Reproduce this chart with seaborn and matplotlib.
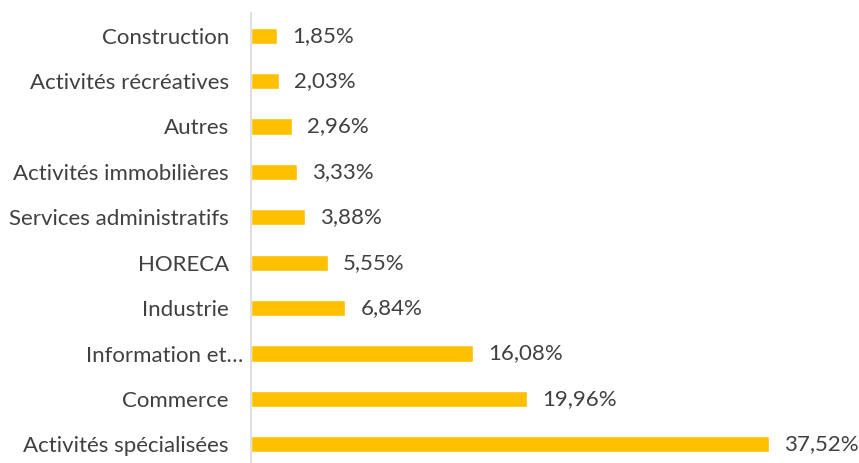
"""Horizontal bar chart: share of sectors (French labels, comma decimals)."""

import matplotlib

matplotlib.use("Agg")
import matplotlib.pyplot as plt
import matplotlib.transforms as mtransforms
import pandas as pd
import seaborn as sns

sectors = [
    "Construction",
    "Activités récréatives",
    "Autres",
    "Activités immobilières",
    "Services administratifs",
    "HORECA",
    "Industrie",
    "Information et…",
    "Commerce",
    "Activités spécialisées",
]
shares = [1.85, 2.03, 2.96, 3.33, 3.88, 5.55, 6.84, 16.08, 19.96, 37.52]

BAR_COLOR = "#FFC000"
TEXT_COLOR = "#404040"

sns.set_style("white")
plt.rcParams["font.family"] = ["Lato", "DejaVu Sans"]

df = pd.DataFrame({"Sector": sectors, "Share": shares})

fig = plt.figure(figsize=(8.59, 4.63), dpi=100)
ax = fig.add_axes([251 / 859, -4 / 463, 599 / 859, 454 / 463])

sns.barplot(data=df, x="Share", y="Sector", orient="h", color=BAR_COLOR,
            width=0.36, saturation=1, ax=ax)

labels = [f"{v:.2f}%".replace(".", ",") for v in shares]
ax.bar_label(ax.containers[0], labels=labels, padding=11, fontsize=16,
             color=TEXT_COLOR)

ax.set_xlim(0, 43.39)
ax.set_ylim(9.5, -0.5)
ax.set_xlabel("")
ax.set_ylabel("")
ax.set_xticks([])
ax.tick_params(axis="y", length=0, pad=16, labelsize=16, labelcolor=TEXT_COLOR)

# truncated label sits closer to the axis, like in the source chart
for lbl in ax.get_yticklabels():
    if lbl.get_text().endswith("…"):
        offset = mtransforms.ScaledTranslation(14 / 100, 0, fig.dpi_scale_trans)
        lbl.set_transform(lbl.get_transform() + offset)

for side in ["top", "right", "bottom"]:
    ax.spines[side].set_visible(False)
ax.spines["left"].set_color("#D9D9D9")
ax.spines["left"].set_linewidth(1.2)

fig.savefig("out.png", dpi=100)
